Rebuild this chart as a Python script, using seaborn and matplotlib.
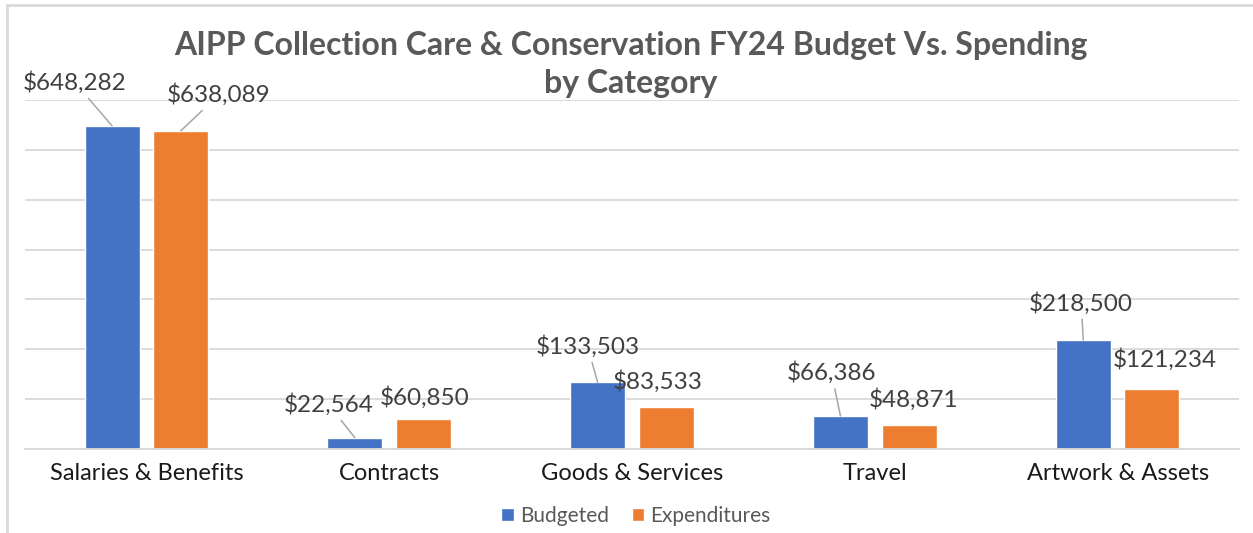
import pandas as pd
import numpy as np
import matplotlib.pyplot as plt
from matplotlib.patches import Rectangle
import seaborn as sns

categories = ['Salaries & Benefits', 'Contracts', 'Goods & Services', 'Travel', 'Artwork & Assets']
budgeted = [648282, 22564, 133503, 66386, 218500]
expenditures = [638089, 60850, 83533, 48871, 121234]
series = ['Budgeted', 'Expenditures']
title_lines = ['AIPP Collection Care & Conservation FY24 Budget Vs. Spending', 'by Category']

df = pd.DataFrame({
    'category': categories * 2,
    'series': [series[0]] * len(categories) + [series[1]] * len(categories),
    'value': budgeted + expenditures,
})

# label placement, in pixels from the top centre of each bar (dx, dy, leader line)
label_pos = {
    'Budgeted': [(-37, 43, True), (-26, 33, True), (-10, 36, True), (-9, 43, True), (-2, 37, True)],
    'Expenditures': [(38, 36, True), (1, 21, False), (-9, 26, False), (4, 25, False), (13, 29, False)],
}

sns.set_theme(style='white')
plt.rcParams['font.family'] = ['Lato', 'DejaVu Sans']

fig = plt.figure(figsize=(12.53, 5.33), dpi=100)
ax = fig.add_axes([25/1253, 1-449/533, (1239-25)/1253, (449-100)/533])

sns.barplot(data=df, x='category', y='value', hue='series', order=categories,
            hue_order=series, palette=['#4472C4', '#ED7D31'], width=0.566, gap=0.2,
            saturation=1, ax=ax, legend=True)

ax.set_ylim(0, 700000)
ax.set_xlim(-0.5, len(categories) - 0.5)
ax.set_yticks(np.arange(0, 700001, 100000))
ax.set_yticklabels([])
ax.tick_params(axis='y', length=0)
ax.grid(axis='y', color='#d9d9d9', lw=1.3)
ax.set_axisbelow(True)
for s in ['top', 'right', 'left']:
    ax.spines[s].set_visible(False)
ax.spines['bottom'].set_color('#d9d9d9')
ax.spines['bottom'].set_linewidth(1.3)

ax.set_xticks(range(len(categories)))
ax.set_xticklabels(categories, fontsize=17, color='#1a1a1a')
ax.tick_params(axis='x', length=0, pad=10)
ax.set_xticks(np.arange(-0.5, len(categories)), minor=True)
ax.tick_params(axis='x', which='minor', length=7, width=1.3, color='#d9d9d9', direction='out')
ax.set_xlabel('')
ax.set_ylabel('')

for cont, name in zip(ax.containers, series):
    for bar, (dx, dy, leader) in zip(cont, label_pos[name]):
        cx = bar.get_x() + bar.get_width() / 2
        top = bar.get_height()
        arrow = dict(arrowstyle='-', color='#a6a6a6', lw=1.1, shrinkA=1, shrinkB=0) if leader else None
        ax.annotate(f'${top:,.0f}', xy=(cx, top), xytext=(dx, dy), textcoords='offset pixels',
                    ha='center', va='center', fontsize=17.5, color='#404040', arrowprops=arrow,
                    zorder=5)

leg = ax.legend(loc='center', frameon=False, ncol=2, fontsize=15, handlelength=0.6,
                handleheight=0.6, handletextpad=0.3, columnspacing=1.1, labelcolor='#595959')
leg.set_bbox_to_anchor((636/1253, 1-516/533), transform=fig.transFigure)

for txt, yp in zip(title_lines, [46, 84]):
    fig.text(631/1253, 1-yp/533, txt, ha='center', va='center', fontsize=23,
             fontweight='bold', color='#595959')

fig.patches.append(Rectangle((7/1253, -0.1), 1.2, 1.1 - 5/533, transform=fig.transFigure,
                             fill=False, edgecolor='#d9d9d9', lw=2))

fig.savefig('out.png', dpi=100)
